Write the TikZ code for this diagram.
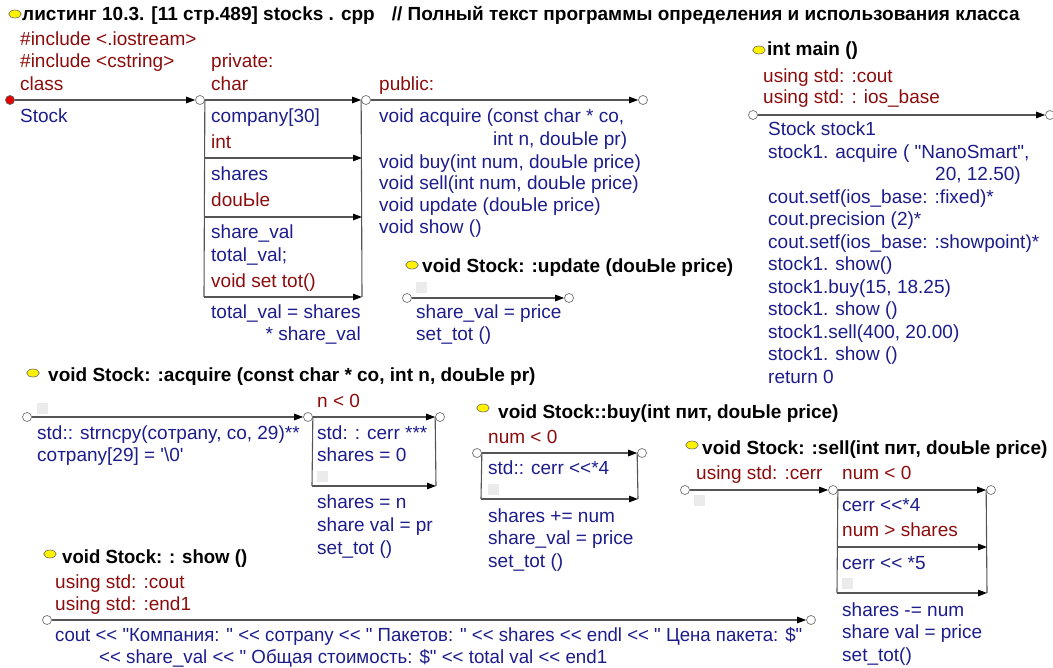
\documentclass[tikz,border=0pt]{standalone}
\usepackage{graphicx}
\usepackage{fontspec}
\setmainfont{Liberation Sans}[Ligatures=TeXOff]
\usetikzlibrary{arrows.meta,shapes.geometric}
\definecolor{tblue}{RGB}{28,28,140}
\definecolor{tred}{RGB}{140,12,12}
\definecolor{lgray}{RGB}{85,85,85}
\tikzset{
  txt/.style={anchor=base west, inner sep=0pt, font=\fontsize{19}{22}\selectfont},
  bl/.style={txt, text=tblue},
  rd/.style={txt, text=tred},
  hd/.style={anchor=base west, inner sep=0pt, text=black, font=\fontsize{19}{22}\selectfont\bfseries},
  oc/.style={circle, draw=black!55, fill=white, minimum size=9pt, inner sep=0pt, line width=0.7pt},
  reddot/.style={circle, draw=black!60, fill=red!90!black, minimum size=9pt, inner sep=0pt, line width=0.7pt},
  yel/.style={ellipse, draw=black!60, fill=yellow, minimum width=12.5pt, minimum height=8pt, inner sep=0pt, line width=0.6pt},
  gsq/.style={rectangle, fill=black!8, draw=none, minimum size=11pt, inner sep=0pt},
  ln/.style={draw=lgray, line width=1.1pt},
  arr/.style={ln, -{Triangle[length=9pt,width=6.5pt,color=black]}},
}
\begin{document}
\begin{tikzpicture}[x=1pt,y=-1pt]
\useasboundingbox (0,0) rectangle (1053,668);

% ---------- title ----------
\node[yel] (e0) at (15,14) {};
\node[hd] (title) at (22,21) {листинг 10.3. [11 стр.489] stocks . cpp\hspace{17pt}// Полный текст программы определения и использования класса};

% ---------- class Stock ----------
\node[rd] (inc1) at (20,46) {\#include <.iostream>};
\node[rd] (inc2) at (20,68) {\#include <cstring>};
\node[rd] (cls) at (20,91) {class};
\node[rd] (priv) at (211,68) {private:};
\node[rd] (chr) at (211,91) {char};
\node[rd] (pub) at (379,91) {public:};

\node[reddot] (c1) at (10,100) {};
\node[oc] (c2) at (200,100) {};
\node[oc] (c3) at (366,100) {};
\node[oc] (c4) at (643,100) {};
\draw[arr] (c1) -- (c2);
\draw[arr] (c2) -- (c3);
\draw[arr] (c3) -- (c4);

\node[bl] (stock) at (20,123) {Stock};

\coordinate (k2b) at (204,297);
\coordinate (k2r) at (362,297);
\coordinate (l158) at (204,158);
\coordinate (r158) at (362,158);
\coordinate (l217) at (204,217);
\coordinate (r217) at (362,217);
\draw[ln] (c2.east) -- (k2b);
\draw[ln] (c3.west) -- (k2r);
\draw[arr] (l158) -- (r158);
\draw[arr] (l217) -- (r217);
\draw[arr] (k2b) -- (k2r);

\node[bl] (t1) at (211,123) {company[30]};
\node[rd] (t2) at (211,149) {int};
\node[bl] (t3) at (211,181) {shares};
\node[rd] (t4) at (211,207) {douЬle};
\node[bl] (t5) at (211,239) {share\_val};
\node[bl] (t6) at (211,262) {total\_val;};
\node[rd] (t7) at (211,288) {void set tot()};
\node[bl] (t8) at (211,319) {total\_val = shares};
\node[bl, anchor=base east] (t9) at (361,341) {* share\_val};

\node[bl] (p1) at (379,123) {void acquire (const char * co,};
\node[bl] (p2) at (493,146) {int n, douЬle pr)};
\node[bl] (p3) at (379,169) {void buy(int num, douЬle price)};
\node[bl] (p4) at (379,190) {void sell(int num, douЬle price)};
\node[bl] (p5) at (379,212) {void update (douЬle price)};
\node[bl] (p6) at (379,234) {void show ()};

% ---------- update ----------
\node[yel] (eu) at (412,265) {};
\node[hd] (uh) at (422,273) {void Stock: :update (douЬle price)};
\node[gsq] (gu) at (421,287.5) {};
\node[oc] (u1) at (407,298) {};
\node[oc] (u2) at (569,298) {};
\draw[arr] (u1) -- (u2);
\node[bl] (u3) at (416,319) {share\_val = price};
\node[bl] (u4) at (416,341) {set\_tot ()};

% ---------- main ----------
\node[yel] (em) at (759,50) {};
\node[hd] (mh) at (767,56) {int main ()};
\node[rd] (m3) at (763,83) {using std: :cout};
\node[rd] (m4) at (763,104) {using std: : ios\_base};
\node[oc] (m1) at (753,115) {};
\node[oc] (m2) at (1050,115) {};
\draw[arr] (m1) -- (m2);
\node[bl] (mm1) at (768,136) {Stock stock1};
\node[bl] (mm2) at (768,158.5) {stock1. acquire ( "NanoSmart",};
\node[bl] (mm3) at (935,181) {20, 12.50)};
\node[bl] (mm4) at (768,203.5) {cout.setf(ios\_base: :fixed)*};
\node[bl] (mm5) at (768,226) {cout.precision (2)*};
\node[bl] (mm6) at (768,248.5) {cout.setf(ios\_base: :showpoint)*};
\node[bl] (mm7) at (768,271) {stock1. show()};
\node[bl] (mm8) at (768,293.5) {stock1.buy(15, 18.25)};
\node[bl] (mm9) at (768,316) {stock1. show ()};
\node[bl] (mm10) at (768,338.5) {stock1.sell(400, 20.00)};
\node[bl] (mm11) at (768,361) {stock1. show ()};
\node[bl] (mm12) at (768,383.5) {return 0};

% ---------- acquire ----------
\node[yel] (ea) at (33,373) {};
\node[hd] (ah) at (48,382) {void Stock: :acquire (const char * co, int n, douЬle pr)};
\node[gsq] (ga1) at (42.5,408.5) {};
\node[oc] (a1) at (27,417) {};
\node[oc] (a2) at (308,417) {};
\node[oc] (a3) at (440,417) {};
\node[rd] (an) at (317,407) {n < 0};
\draw[arr] (a1) -- (a2);
\draw[arr] (a2) -- (a3);
\coordinate (ab1) at (312,486);
\coordinate (ab2) at (436,486);
\draw[ln] (a2.east) -- (ab1);
\draw[ln] (a3.west) -- (ab2);
\draw[arr] (ab1) -- (ab2);
\node[bl] (a4) at (37,439) {std:: strncpy(coтpany, co, 29)**};
\node[bl] (a5) at (37,461) {coтpany[29] = '\textbackslash 0'};
\node[bl] (a6) at (317,439) {std: : cerr ***};
\node[bl] (a7) at (317,461) {shares = 0};
\node[gsq] (ga2) at (322.5,476.5) {};
\node[bl] (a8) at (317,508) {shares = n};
\node[bl] (a9) at (317,531) {share val = pr};
\node[bl] (a10) at (317,554) {set\_tot ()};

% ---------- buy ----------
\node[yel] (eb) at (483,408) {};
\node[hd] (bh) at (498,419) {void Stock::buy(int пит, douЬle price)};
\node[rd] (bn) at (488,443) {num < 0};
\node[oc] (b1) at (477,453) {};
\node[oc] (b2) at (642,453) {};
\draw[arr] (b1) -- (b2);
\coordinate (bb1) at (481,499);
\coordinate (bb2) at (638,499);
\draw[ln] (b1.east) -- (bb1);
\draw[ln] (b2.west) -- (bb2);
\draw[arr] (bb1) -- (bb2);
\node[bl] (b3) at (488,475) {std:: cerr <<*4};
\node[gsq] (gb) at (493.5,489.5) {};
\node[bl] (b4) at (488,522) {shares += num};
\node[bl] (b5) at (488,544) {share\_val = price};
\node[bl] (b6) at (488,567) {set\_tot ()};

% ---------- sell ----------
\node[yel] (es) at (692,445) {};
\node[hd] (sh) at (702,454) {void Stock: :sell(int пит, douЬle price)};
\node[rd] (s4) at (696,479) {using std: :cerr};
\node[rd] (s5) at (842,479) {num < 0};
\node[oc] (s1) at (685,490) {};
\node[oc] (s2) at (833,490) {};
\node[oc] (s3) at (991,490) {};
\node[gsq] (gs1) at (699.5,500.5) {};
\draw[arr] (s1) -- (s2);
\draw[arr] (s2) -- (s3);
\coordinate (sl547) at (837,547);
\coordinate (sr547) at (987,547);
\coordinate (sl593) at (837,593);
\coordinate (sr593) at (987,593);
\draw[ln] (s2.east) -- (sl593);
\draw[ln] (s3.west) -- (sr593);
\draw[arr] (sl547) -- (sr547);
\draw[arr] (sl593) -- (sr593);
\node[bl] (s6) at (842,511) {cerr <<*4};
\node[rd] (s7) at (842,536) {num > shares};
\node[bl] (s8) at (842,569) {cerr << *5};
\node[gsq] (gs2) at (847.5,583.5) {};
\node[bl] (s9) at (842,616) {shares -= num};
\node[bl] (s10) at (842,638) {share val = price};
\node[bl] (s11) at (842,661) {set\_tot()};

% ---------- show ----------
\node[yel] (ew) at (50,554) {};
\node[hd] (wh) at (62,563) {\resizebox{185pt}{\height}{void Stock: : show ()}};
\node[rd] (w3) at (55,588) {using std: :cout};
\node[rd] (w4) at (55,610) {using std: :end1};
\node[oc] (w1) at (47,620) {};
\node[oc] (w2) at (811,620) {};
\draw[arr] (w1) -- (w2);
\node[bl] (w5) at (55,641) {\resizebox{747pt}{\height}{cout << "Компания: " << coтpany << " Пакетов: " << shares << endl << " Цена пакета: \$"}};
\node[bl] (w6) at (99,663) {\resizebox{508pt}{\height}{<< share\_val << " Общая стоимость: \$" << total val << end1}};
\end{tikzpicture}
\end{document}
